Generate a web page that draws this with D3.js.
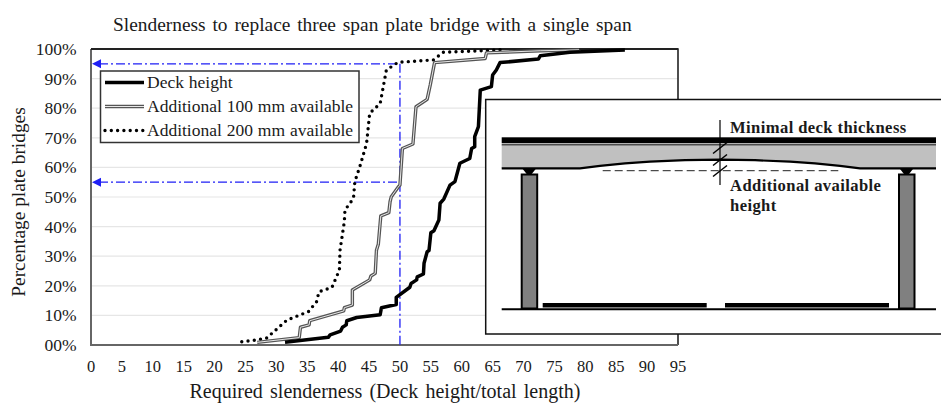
<!DOCTYPE html>
<html><head><meta charset="utf-8">
<script src="https://cdn.jsdelivr.net/npm/d3@7"></script>
<style>html,body{margin:0;padding:0;background:#fff}svg{display:block}text{font-family:"Liberation Serif",serif;fill:#1a1a1a}</style>
</head><body><svg id="c" width="941" height="403"></svg>
<script>
const titleText = "Slenderness to replace three span plate bridge with a single span";
const xLabel = "Required slenderness (Deck height/total length)";
const yLabel = "Percentage plate bridges";
const xTicks = d3.range(0, 100, 5);
const yTicks = [0,10,20,30,40,50,60,70,80,90,100];
const yTickLabels = ["00%","10%","20%","30%","40%","50%","60%","70%","80%","90%","100%"];
const seriesNames = ["Deck height","Additional 100 mm available","Additional 200 mm available"];
const deck = [[31.4,.9],[38.4,2.6],[38.7,3.4],[40.4,4.7],[40.7,6],[41.3,6.8],[41.4,8.2],[43,9.3],[46.8,10.2],[47,12.6],[49.4,13.7],[49.4,16.1],[51.6,19.5],[51.8,20.8],[52.7,22],[52.8,23],[53.8,24],[53.9,27.6],[54.4,31.5],[54.7,31.9],[55,37.9],[55.5,38.6],[56.3,42.2],[56.5,47.9],[57.1,49.3],[58.1,54],[58.9,55.2],[59.7,61.4],[61.3,63],[61.6,66.4],[62.1,67],[62.1,70.4],[62.7,73.8],[63,86.1],[64.8,87.3],[65,91.2],[65.6,92.9],[66.2,95.4],[72.4,96.6],[72.7,97.7],[77.5,98.9],[86.4,99.7]];
const add100 = [[26.9,.9],[33.7,2.5],[33.9,6],[35.3,6.8],[35.4,8.2],[40.9,11.5],[41,12.6],[42.3,13.5],[42.3,18.6],[45.1,22],[45.3,23.3],[46,24.2],[46.2,32],[46.5,34],[46.9,43.6],[48.2,44.7],[48.4,48.4],[48.6,50.1],[49.7,53.3],[50,54],[50.4,66.4],[52.1,67.9],[52.6,80.5],[54.4,83],[54.9,87.8],[55.6,95.4],[63.8,96.8],[64,98.7],[72.7,99.4],[79,99.7]];
const add200 = [[24.4,1.1],[26.8,1.7],[28.4,2.3],[31.7,8.4],[35.2,11.3],[36.5,14.6],[36.9,18],[39,19.5],[40.2,25.3],[40.3,32],[41,41.7],[41.1,45.6],[42.3,49],[42.5,50.1],[42.7,55.2],[43.5,60.2],[44.6,68.1],[45.1,78.3],[46.8,81.6],[47.8,92.9],[49.7,95.5],[55.4,96.3],[57,98.9],[63,99.4],[66.7,99.8]];
const guideX = 50;
const guideYs = [95, 55];
const insetLabels = [["Minimal deck thickness",133],["Additional available",191],["height",211]];

const svg = d3.select("#c");
const x = d3.scaleLinear().domain([0,95]).range([91,678]);
const y = d3.scaleLinear().domain([0,100]).range([345,49]);
const line = d3.line().x(d=>x(d[0])).y(d=>y(d[1]));

svg.append("text").attr("x",113).attr("y",31).attr("font-size",19.4).attr("word-spacing",2).text(titleText);

svg.append("g").selectAll("line").data(yTicks.filter(d=>d>0&&d<100)).join("line")
  .attr("x1",x(0)).attr("x2",x(95)).attr("y1",d=>y(d)).attr("y2",d=>y(d)).attr("stroke","#e6e6e6").attr("stroke-width",1.2);

// frame
svg.append("path").attr("d",`M${x(0)},${y(100)}H${x(95)}V${y(0)}`).attr("fill","none").attr("stroke","#222").attr("stroke-width",1.6);
svg.append("line").attr("x1",x(0)).attr("x2",x(0)).attr("y1",y(100)).attr("y2",y(0)).attr("stroke","#666").attr("stroke-width",2);
svg.append("line").attr("x1",x(0)-1).attr("x2",x(95)).attr("y1",y(0)).attr("y2",y(0)).attr("stroke","#666").attr("stroke-width",2);
svg.append("line").attr("x1",x(0)).attr("x2",x(95)).attr("y1",y(100)).attr("y2",y(100)).attr("stroke","#222").attr("stroke-width",1.8);

// tick labels
svg.append("g").selectAll("text").data(xTicks).join("text").attr("x",d=>x(d)).attr("y",371.5).attr("text-anchor","middle").attr("font-size",16.5).text(d=>d);
svg.append("g").selectAll("text").data(yTicks).join("text").attr("x",76.5).attr("y",d=>y(d)+6).attr("text-anchor","end").attr("font-size",17.5).text((d,i)=>yTickLabels[i]);

svg.append("text").attr("x",385).attr("y",398).attr("text-anchor","middle").attr("font-size",20).attr("word-spacing",2.2).text(xLabel);
svg.append("text").attr("transform","translate(25,202) rotate(-90)").attr("text-anchor","middle").attr("font-size",19.4).text(yLabel);

// blue guides
const dash = "9 3 2 3";
const blue = "#1f1ff5";
svg.append("line").attr("x1",x(guideX)).attr("x2",x(guideX)).attr("y1",y(guideYs[0])).attr("y2",y(0)).attr("stroke",blue).attr("stroke-width",1.3).attr("stroke-dasharray",dash);
guideYs.forEach(g=>{
  svg.append("line").attr("x1",x(0)+8).attr("x2",x(guideX)).attr("y1",y(g)).attr("y2",y(g)).attr("stroke",blue).attr("stroke-width",1.3).attr("stroke-dasharray",dash);
  svg.append("path").attr("d",`M${x(0)+1},${y(g)}l9,-4.5v9z`).attr("fill",blue);
});

function styled(sel, kind){
  if(kind===0){ sel.attr("stroke","#000").attr("stroke-width",3.5); }
  if(kind===2){ sel.attr("stroke","#000").attr("stroke-width",3.4).attr("stroke-linecap","round").attr("stroke-dasharray","0 6.3"); }
  return sel;
}
function drawDouble(g, d){
  g.append("path").attr("d",d).attr("fill","none").attr("stroke","#555").attr("stroke-width",3.4).attr("stroke-linejoin","round");
  g.append("path").attr("d",d).attr("fill","none").attr("stroke","#e8e8e8").attr("stroke-width",1).attr("stroke-linejoin","round");
}
const marks = svg.append("g");
styled(marks.append("path").attr("d",line(add200)).attr("fill","none"),2);
drawDouble(marks, line(add100));
styled(marks.append("path").attr("d",line(deck)).attr("fill","none").attr("stroke-linejoin","round"),0);

// legend
const lg = svg.append("g");
lg.append("rect").attr("x",100.5).attr("y",71).attr("width",258.5).attr("height",71.5).attr("fill","#fff").attr("stroke","#333").attr("stroke-width",1.5);
const legY = [82.5,106.5,130.5];
seriesNames.forEach((n,i)=>{
  const d = `M105,${legY[i]}H144`;
  if(i===1) drawDouble(lg,d);
  else styled(lg.append("path").attr("d",d).attr("fill","none"),i);
  lg.append("text").attr("x",147).attr("y",legY[i]+5.5).attr("font-size",17.5).attr("word-spacing",.5).text(n);
});

// inset illustration
const ig = svg.append("g");
const L = 501.7, R = 936;
ig.append("rect").attr("x",485.7).attr("y",99.5).attr("width",470).attr("height",234.5).attr("fill","#fff").attr("stroke","#111").attr("stroke-width",1.5);
const soffit = [[580,168.3],[600,165.8],[625,163.4],[650,161.7],[685,160.2],[720,159.6],[755,160.2],[790,161.7],[815,163.4],[840,165.8],[860,168.3]];
const soffitPath = d3.line().curve(d3.curveLinear)(soffit).replace(/^M/,"L");
ig.append("path").attr("d",`M${L},145H${R}V168.3H${L}Z`).attr("fill","#c0c0c0");
ig.append("path").attr("d",`M${L},168.3${soffitPath}H${R}V176H${L}Z`).attr("fill","#fff");
ig.append("rect").attr("x",L).attr("y",137.3).attr("width",R-L).attr("height",6).attr("fill","#000");
ig.append("line").attr("x1",L).attr("x2",R).attr("y1",144.8).attr("y2",144.8).attr("stroke","#000").attr("stroke-width",1);
ig.append("path").attr("d",`M${L},168.3${soffitPath}H${R}`).attr("fill","none").attr("stroke","#000").attr("stroke-width",2.2);
ig.append("line").attr("x1",602.7).attr("x2",838.3).attr("y1",170.7).attr("y2",170.7).attr("stroke","#222").attr("stroke-width",1).attr("stroke-dasharray","8 4");
[520.7,898].forEach(cx=>{
  ig.append("rect").attr("x",cx+1).attr("y",174.5).attr("width",15.5).attr("height",134).attr("fill","#808080").attr("stroke","#000").attr("stroke-width",2);
  ig.append("path").attr("d",`M${cx+2},169H${cx+15}L${cx+11},174H${cx+6}Z`).attr("fill","#000");
});
ig.append("line").attr("x1",L).attr("x2",R).attr("y1",309.3).attr("y2",309.3).attr("stroke","#000").attr("stroke-width",2);
[[542.7,706.7],[725,889]].forEach(b=>ig.append("rect").attr("x",b[0]).attr("y",303).attr("width",b[1]-b[0]).attr("height",4.5).attr("fill","#000"));
ig.append("line").attr("x1",720).attr("x2",720).attr("y1",120).attr("y2",185).attr("stroke","#000").attr("stroke-width",1.2);
[148,160,171].forEach(s=>ig.append("line").attr("x1",713).attr("x2",727).attr("y1",s+5.5).attr("y2",s-5.5).attr("stroke","#000").attr("stroke-width",1.5));
insetLabels.forEach(t=>ig.append("text").attr("x",730).attr("y",t[1]).attr("font-size",16.6).attr("font-weight","bold").attr("letter-spacing",.4).text(t[0]));
</script></body></html>
